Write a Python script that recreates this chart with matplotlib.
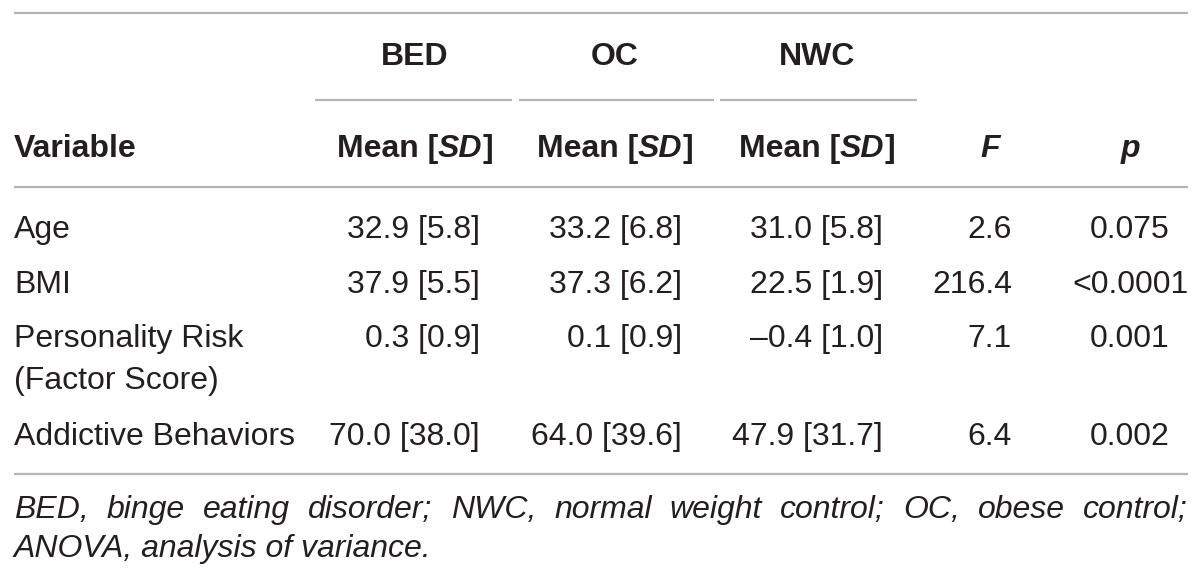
import matplotlib
matplotlib.use("Agg")
import matplotlib.pyplot as plt

# table content
groups = ["BED", "OC", "NWC"]
variables = [["Age"], ["BMI"], ["Personality Risk", "(Factor Score)"], ["Addictive Behaviors"]]
bed_mean = [32.9, 37.9, 0.3, 70.0]
bed_sd = [5.8, 5.5, 0.9, 38.0]
oc_mean = [33.2, 37.3, 0.1, 64.0]
oc_sd = [6.8, 6.2, 0.9, 39.6]
nwc_mean = [31.0, 22.5, -0.4, 47.9]
nwc_sd = [5.8, 1.9, 1.0, 31.7]
f_vals = [2.6, 216.4, 7.1, 6.4]
p_vals = ["0.075", "<0.0001", "0.001", "0.002"]
footnote = ["BED, binge eating disorder; NWC, normal weight control; OC, obese control;",
            "ANOVA, analysis of variance."]

INK = "#231f20"
RULE = "#b5b5b5"
FS = 23
plt.rcParams['font.family'] = ['Liberation Sans', 'DejaVu Sans']

fig = plt.figure(figsize=(12, 5.79), dpi=100)
ax = fig.add_axes([0, 0, 1, 1])
ax.set_xlim(0, 1200)
ax.set_ylim(579, 0)
ax.axis('off')
renderer = fig.canvas.get_renderer()


def width_of(s, **kw):
    t = ax.text(0, 0, s, fontsize=FS, **kw)
    w = t.get_window_extent(renderer).width
    t.remove()
    return w


def runs(x, y, parts, ha='center'):
    # parts: list of (text, weight, style)
    ws = [width_of(s, fontweight=w, fontstyle=st) for s, w, st in parts]
    total = sum(ws)
    if ha == 'center':
        x0 = x - total / 2
    elif ha == 'right':
        x0 = x - total
    else:
        x0 = x
    for (s, w, st), wd in zip(parts, ws):
        ax.text(x0, y, s, fontsize=FS, fontweight=w, fontstyle=st, color=INK,
                ha='left', va='baseline')
        x0 += wd


# rules
ax.plot([14, 1188], [13, 13], color=RULE, lw=1.6, solid_capstyle='butt')
ax.plot([14, 1188], [187, 187], color=RULE, lw=1.6, solid_capstyle='butt')
ax.plot([14, 1188], [474, 474], color=RULE, lw=1.6, solid_capstyle='butt')
spans = [(315, 512), (519, 714), (720, 917)]
for a, b in spans:
    ax.plot([a, b], [100, 100], color=RULE, lw=1.6, solid_capstyle='butt')

centers = [415, 615, 817]
for g, cx in zip(groups, centers):
    ax.text(cx, 65, g, fontsize=FS, fontweight='bold', color=INK, ha='center', va='baseline')
    runs(cx, 157, [("Mean [", 'bold', 'normal'), ("SD", 'bold', 'italic'), ("]", 'bold', 'normal')])

ax.text(14, 157, "Variable", fontsize=FS, fontweight='bold', color=INK, ha='left', va='baseline')
ax.text(990, 157, "F", fontsize=FS, fontweight='bold', fontstyle='italic', color=INK, ha='center', va='baseline')
ax.text(1130, 157, "p", fontsize=FS, fontweight='bold', fontstyle='italic', color=INK, ha='center', va='baseline')


def fmt(m, s):
    return f"{m:.1f}".replace('-', '\u2013') + f" [{s:.1f}]"


baselines = [238, 293, 347, 445]
rights = [480, 682, 883]
cols = [(bed_mean, bed_sd), (oc_mean, oc_sd), (nwc_mean, nwc_sd)]
for i, yb in enumerate(baselines):
    for j, line in enumerate(variables[i]):
        ax.text(14, yb + 42 * j, line, fontsize=FS, color=INK, ha='left', va='baseline')
    for (mn, sd), rx in zip(cols, rights):
        ax.text(rx, yb, fmt(mn[i], sd[i]), fontsize=FS, color=INK, ha='right', va='baseline')
    ax.text(1012, yb, f"{f_vals[i]:.1f}", fontsize=FS, color=INK, ha='right', va='baseline')
    ax.text(1130, yb, p_vals[i], fontsize=FS, color=INK, ha='center', va='baseline')

# footnote, first line justified
words = footnote[0].split(' ')
wws = [width_of(w, fontstyle='italic') for w in words]
gap = (1188 - 14 - sum(wws)) / (len(words) - 1)
xx = 14
for w, wd in zip(words, wws):
    ax.text(xx, 518, w, fontsize=FS, fontstyle='italic', color=INK, ha='left', va='baseline')
    xx += wd + gap
ax.text(14, 557, footnote[1], fontsize=FS, fontstyle='italic', color=INK, ha='left', va='baseline')

fig.savefig("out.png", dpi=100, facecolor='white')
